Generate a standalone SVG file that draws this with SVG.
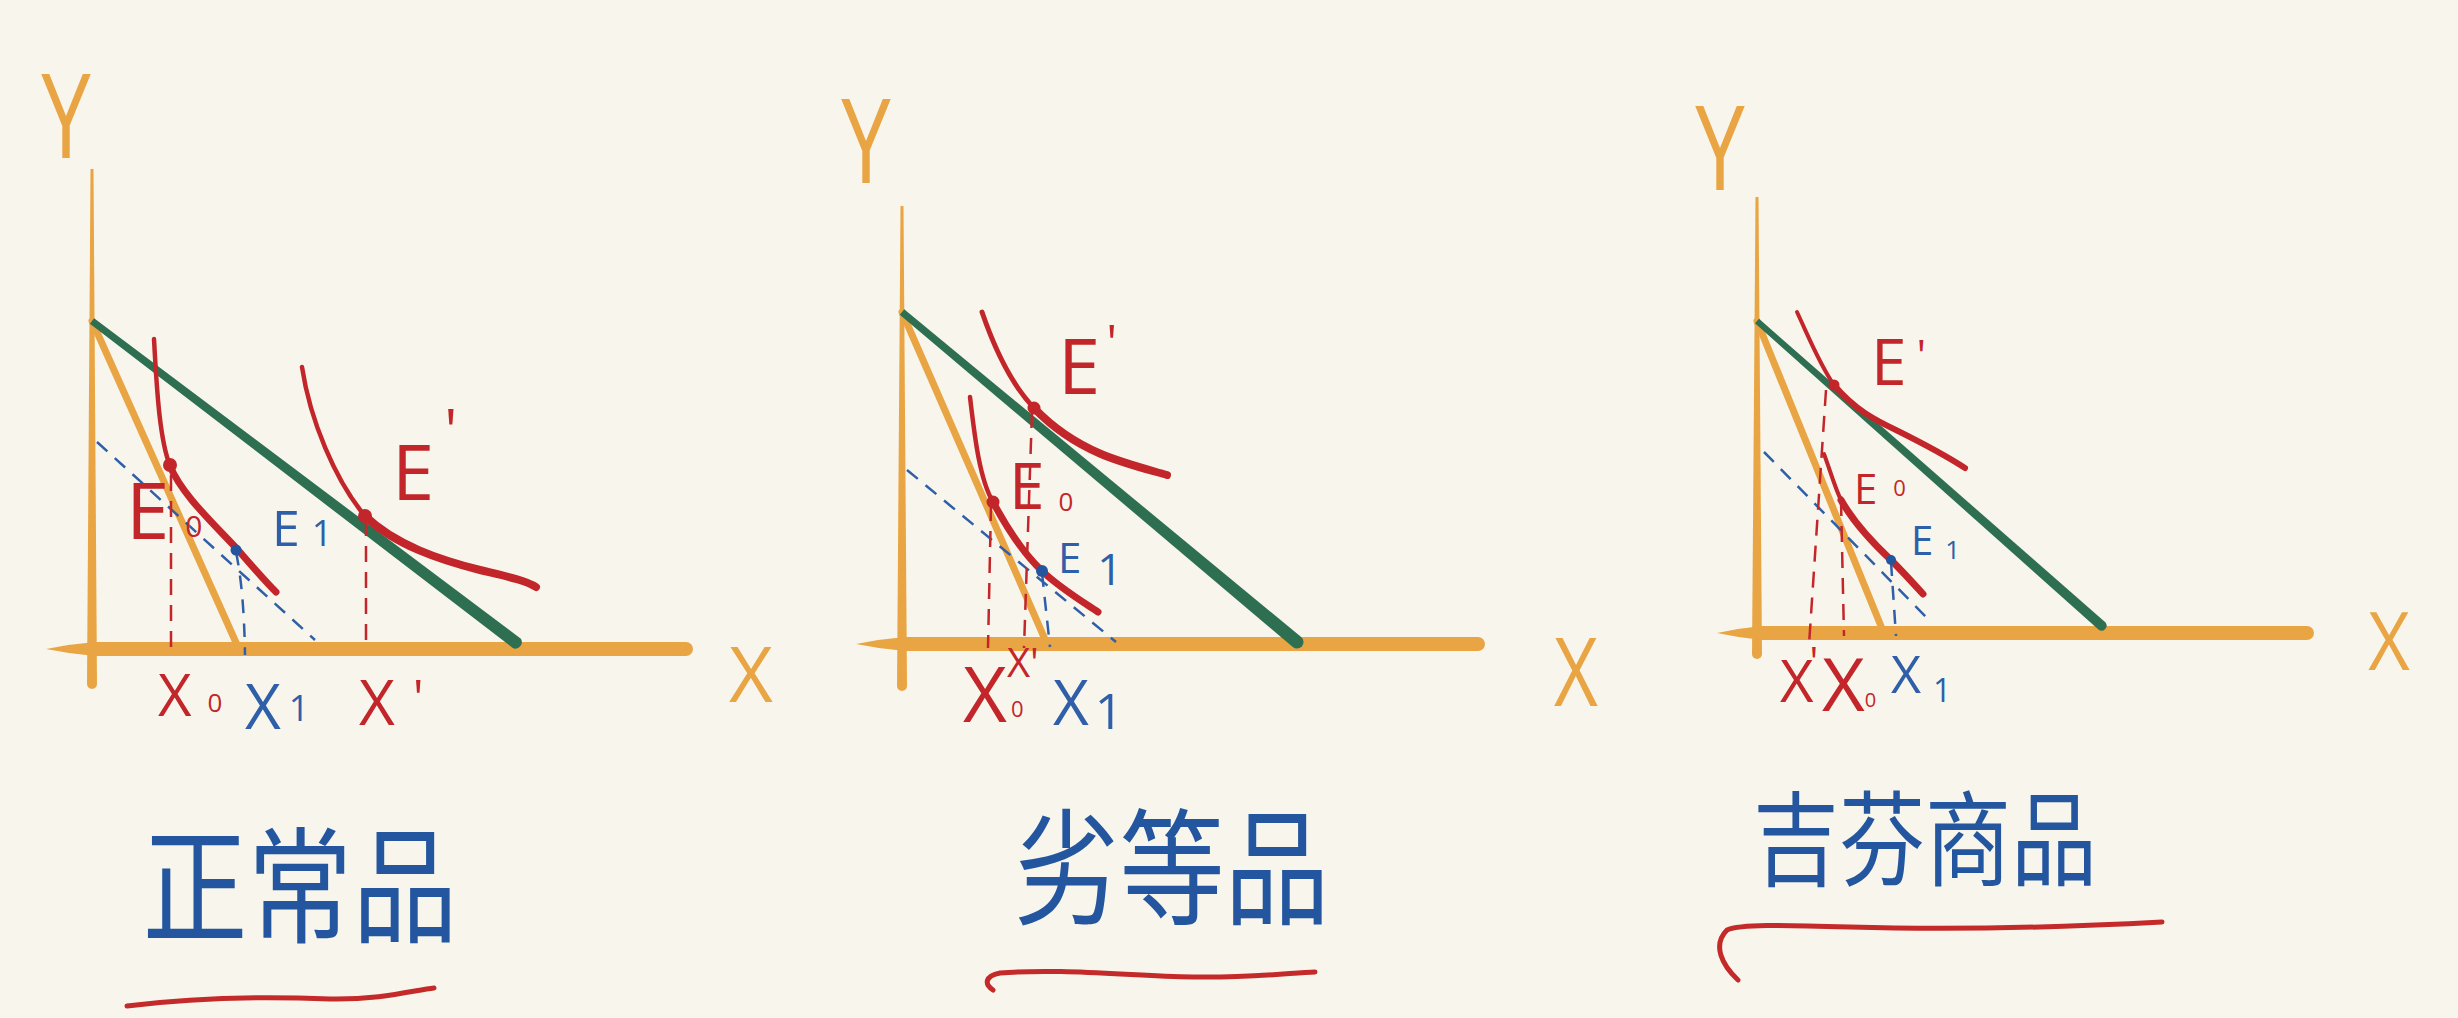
<svg xmlns="http://www.w3.org/2000/svg" width="2458" height="1018" viewBox="0 0 2458 1018">
<style>
.ax{fill:#e9a544}
.bud{stroke:#e9a544;stroke-width:7;stroke-linecap:round;fill:none}
.grn{fill:#2e6f52}
.ic{stroke:#c3262a;fill:none;stroke-linecap:round;stroke-linejoin:round}
.dr{stroke:#c3262a;stroke-width:2.5;stroke-dasharray:16 10;fill:none}
.db{stroke:#2f5fa8;stroke-width:2.5;stroke-dasharray:14 10;fill:none}
.dotr{fill:#c3262a}
.dotb{fill:#2456a0}
.lr{fill:#c3262a;font-family:"Open Sans","Liberation Sans",sans-serif;font-weight:400}
.lb{fill:#2f5fa8;font-family:"Open Sans","Liberation Sans",sans-serif;font-weight:400}
.lo{fill:#e9a544;font-family:"Open Sans","Liberation Sans",sans-serif;font-weight:400;text-anchor:middle}
.cn{fill:#2456a0;font-family:"Noto Sans CJK SC","Noto Sans CJK JP",sans-serif;font-weight:400;text-anchor:middle}
.ul{stroke:#c42a2a;stroke-width:5;fill:none;stroke-linecap:round}
</style>
<rect x="0" y="0" width="2458" height="1018" fill="#f8f6ec"/>

<g id="panel-normal">
  <text class="lo" font-size="118" transform="translate(66,158) scale(0.75,1)">Y</text>
  <path class="ax" d="M90.5,169 L93.5,169 L97,684 A5,5 0 0 1 87,684 Z"/>
  <path class="ax" d="M46,649 Q70,644 95,642 L686,642 A7,7 0 0 1 686,656 L95,656 Q70,654 46,649 Z"/>
  <text class="lo" font-size="76" x="751" y="702">X</text>
  <line class="bud" x1="92" y1="321" x2="238" y2="647"/>
  <path class="db" d="M97,442 L315,640"/>
  <path class="grn" d="M94.1,318.2 L520.9,638.8 A6.5,6.5 0 0 1 513.1,648.2 L89.9,323.8 Z"/>
  <path class="ic" stroke-width="4.5" d="M154,339 C157,395 160,440 170,466"/>
  <path class="ic" stroke-width="7" d="M170,466 C182,495 215,525 238,550 C252,566 264,580 276,592"/>
  <path class="ic" stroke-width="4.5" d="M302,367 C310,420 335,480 365,516"/>
  <path class="ic" stroke-width="8" d="M365,516 C395,545 440,560 480,570 C505,576 525,580 536,587"/>
  <path class="dr" d="M171,475 L171,651"/>
  <path class="dr" d="M366,520 L366,648"/>
  <path class="db" d="M236,552 Q244,590 245,655"/>
  <circle class="dotr" cx="170" cy="465" r="7"/>
  <circle class="dotr" cx="365" cy="516" r="7"/>
  <circle class="dotb" cx="236" cy="550" r="5.5"/>
  <text class="lr" x="126" y="539" font-size="78">E<tspan font-size="30" dx="16" dy="-2">0</tspan></text>
  <text class="lb" x="272" y="546" font-size="50">E<tspan font-size="36" dx="12">1</tspan></text>
  <text class="lr" x="392" y="500" font-size="76">E<tspan dx="10" dy="-48" font-size="60">'</tspan></text>
  <text class="lr" x="158" y="716" font-size="58">X<tspan font-size="26" dx="16" dy="-4">0</tspan></text>
  <text class="lb" x="245" y="729" font-size="62">X<tspan font-size="36" dx="8" dy="-8">1</tspan></text>
  <text class="lr" x="359" y="725" font-size="62">X<tspan dx="18" dy="-10" font-size="50">'</tspan></text>
  <text class="cn" font-size="105" transform="translate(300,933) scale(1,1.2)">正常品</text>
  <path class="ul" d="M127,1006 C190,998 260,996 330,999 C380,1000 415,990 434,988"/>
</g>

<g id="panel-inferior">
  <text class="lo" font-size="118" transform="translate(866,183) scale(0.75,1)">Y</text>
  <path class="ax" d="M900.5,206 L903.5,206 L907,686 A5,5 0 0 1 897,686 Z"/>
  <path class="ax" d="M856,644 Q880,639 905,637 L1478,637 A7,7 0 0 1 1478,651 L905,651 Q880,649 856,644 Z"/>
  <text class="lo" font-size="95" transform="translate(1576,706) scale(0.8,1)">X</text>
  <line class="bud" x1="902" y1="312" x2="1047" y2="644"/>
  <path class="db" d="M907,470 L1116,642"/>
  <path class="grn" d="M904.2,309.3 L1301.2,637 A6.5,6.5 0 0 1 1292.8,647 L899.8,314.7 Z"/>
  <path class="ic" stroke-width="4.5" d="M970,397 C975,440 980,480 993,502"/>
  <path class="ic" stroke-width="7" d="M993,502 C1008,530 1025,555 1042,571 C1060,588 1080,600 1098,612"/>
  <path class="ic" stroke-width="5" d="M982,312 C995,350 1012,385 1034,408"/>
  <path class="ic" stroke-width="8" d="M1034,408 C1055,430 1080,445 1101,454 C1125,464 1150,470 1167,475"/>
  <path class="dr" d="M991,505 L988,648"/>
  <path class="dr" d="M1032,412 L1024,648"/>
  <path class="db" d="M1042,573 L1050,647"/>
  <circle class="dotr" cx="993" cy="502" r="6.5"/>
  <circle class="dotr" cx="1034" cy="408" r="6.5"/>
  <circle class="dotb" cx="1042" cy="571" r="6"/>
  <text class="lr" x="1058" y="394" font-size="76">E<tspan dx="6" dy="-34" font-size="50">'</tspan></text>
  <text class="lr" x="1009" y="509" font-size="64">E<tspan font-size="26" dx="14" dy="2">0</tspan></text>
  <text class="lb" x="1058" y="573" font-size="42">E<tspan font-size="44" dx="16" dy="12">1</tspan></text>
  <text class="lr" x="963" y="722" font-size="76">X<tspan font-size="40" x="1007" y="677">X'</tspan><tspan font-size="22" x="1011" y="717">0</tspan></text>
  <text class="lb" x="1053" y="725" font-size="62">X<tspan font-size="50" dx="6" dy="4">1</tspan></text>
  <text class="cn" font-size="105" transform="translate(1172,915) scale(1,1.2)">劣等品</text>
  <path class="ul" d="M993,990 C984,984 985,976 1000,973 C1060,968 1130,976 1193,977 C1250,978 1290,973 1315,972"/>
</g>

<g id="panel-giffen">
  <text class="lo" font-size="118" transform="translate(1720,190) scale(0.75,1)">Y</text>
  <path class="ax" d="M1755.5,197 L1758.5,197 L1762,654 A5,5 0 0 1 1752,654 Z"/>
  <path class="ax" d="M1717,633 Q1740,628 1762,626 L2307,626 A7,7 0 0 1 2307,640 L1762,640 Q1740,638 1717,633 Z"/>
  <text class="lo" font-size="80" transform="translate(2389,670) scale(0.9,1)">X</text>
  <line class="bud" x1="1757" y1="321" x2="1883" y2="631"/>
  <path class="db" d="M1764,452 L1928,619"/>
  <path class="grn" d="M1759,318.8 L2105.3,622.3 A5,5 0 0 1 2098.7,629.7 L1755,323.2 Z"/>
  <path class="ic" stroke-width="4" d="M1824,454 C1830,470 1835,488 1841,500"/>
  <path class="ic" stroke-width="7" d="M1841,500 C1855,525 1875,545 1891,560 C1903,572 1913,583 1923,594"/>
  <path class="ic" stroke-width="4" d="M1797,312 C1810,340 1820,365 1834,385"/>
  <path class="ic" stroke-width="6" d="M1834,385 C1855,410 1875,420 1898,431 C1920,442 1945,455 1965,468"/>
  <path class="dr" d="M1826,390 L1809,645"/>
  <path class="dr" d="M1841,500 L1844,636"/>
  <path class="db" d="M1891,562 L1896,636"/>
  <circle class="dotr" cx="1834" cy="385" r="5.5"/>
  <circle class="dotb" cx="1891" cy="560" r="5"/>
  <text class="lr" x="1871" y="385" font-size="64">E<tspan dx="10" dy="-14" font-size="44">'</tspan></text>
  <text class="lr" x="1854" y="504" font-size="42">E<tspan font-size="22" dx="16" dy="-8">0</tspan></text>
  <text class="lb" x="1911" y="555" font-size="40">E<tspan font-size="26" dx="12" dy="4">1</tspan></text>
  <text class="lr" x="1780" y="702" font-size="58">X<tspan dx="-4" dy="-26" font-size="40">'</tspan></text>
  <text class="lr" x="1822" y="711" font-size="74">X<tspan font-size="20" dx="0" dy="-4">0</tspan></text>
  <text class="lb" x="1891" y="693" font-size="52">X<tspan font-size="32" dx="12" dy="9">1</tspan></text>
  <text class="cn" font-size="86" transform="translate(1925,878) scale(1,1.2)">吉芬商品</text>
  <path class="ul" d="M1738,980 C1722,965 1712,945 1727,930 C1740,924 1780,925 1850,927 C1950,930 2050,928 2162,922"/>
</g>
</svg>
